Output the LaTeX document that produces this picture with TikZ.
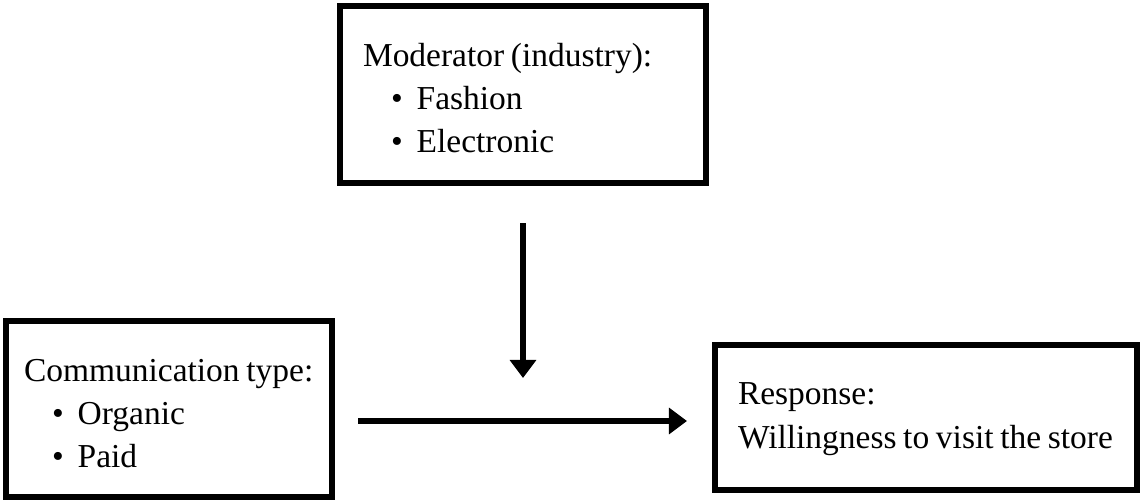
\documentclass[tikz,border=0pt]{standalone}
\usepackage{fontspec}
\setmainfont{Liberation Serif}
\usepackage{tikz}
\usetikzlibrary{arrows.meta, positioning}

\newcommand{\pxu}{0.025cm}
\newcommand{\itm}[1]{\hspace*{0.7cm}\textbullet\hspace{0.35cm}#1}
\newcommand{\topstrut}[1]{\rule{0pt}{#1}}
\newcommand{\tightsp}{\spaceskip=0.2em\relax}

\begin{document}
\begin{tikzpicture}[x=0.025cm, y=-0.025cm,
    box/.style={draw, line width=0.15cm, align=left, inner ysep=0pt,
        font=\fontsize{23.8}{30.6}\selectfont, execute at begin node=\tightsp},
    flow/.style={line width=0.17cm, -{Triangle[length=0.45cm, width=0.64cm]}}]
    \useasboundingbox (0,0) rectangle (1142,503);

    % Boxes
    \node[box, minimum width=366*\pxu, minimum height=177*\pxu,
        text width=320*\pxu, inner xsep=23*\pxu] (mod) at (523,94.5)
        {\topstrut{0.775cm}\mbox{Moderator (industry):}\\
         \itm{Fashion}\\
         \itm{Electronic}};
    \node[box, minimum width=326*\pxu, minimum height=176*\pxu,
        text width=290*\pxu, inner xsep=18*\pxu] (comm) at (169,409)
        {\topstrut{0.8cm}\mbox{Communication type:}\\
         \itm{Organic}\\
         \itm{Paid}};
    \node[box, minimum width=422*\pxu, minimum height=145*\pxu,
        text width=376*\pxu, inner xsep=23*\pxu] (resp) at (926,417.5)
        {\topstrut{0.75cm}Response:\\
         \mbox{Willingness to visit the store}\rule[-0.3cm]{0pt}{0pt}};

    % Arrows
    \coordinate (cross) at (523,421);
    \draw[flow, shorten <=0.925cm, shorten >=1.075cm] (mod.south) -- (cross);
    \draw[flow, shorten <=0.575cm, shorten >=0.625cm] (comm.east |- cross) -- (resp.west |- cross);
\end{tikzpicture}
\end{document}
